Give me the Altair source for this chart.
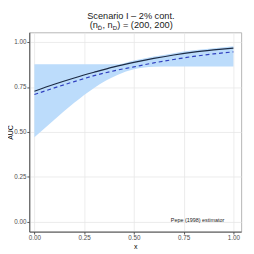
import altair as alt
import pandas as pd

# ---- data ----
x_line = [0.0, 0.1, 0.2, 0.3, 0.4, 0.5, 0.6, 0.7, 0.8, 0.9, 1.0]
auc_true = [0.726, 0.765, 0.800, 0.832, 0.862, 0.887, 0.909, 0.928, 0.944, 0.956, 0.966]
auc_pepe = [0.708, 0.745, 0.780, 0.813, 0.840, 0.862, 0.884, 0.903, 0.920, 0.934, 0.945]

x_band = [0.0, 0.1, 0.2, 0.3, 0.42, 0.5, 0.6, 0.7, 0.8, 0.9, 1.0]
band_lo = [0.471, 0.568, 0.662, 0.745, 0.818, 0.848, 0.862, 0.864, 0.864, 0.864, 0.864]
band_hi = [0.876, 0.876, 0.876, 0.876, 0.876, 0.897, 0.919, 0.938, 0.954, 0.966, 0.977]

major_ticks = [0.0, 0.25, 0.5, 0.75, 1.0]
minor_ticks = [0.125, 0.375, 0.625, 0.875]

title_line1 = "Scenario I \u2013 2% cont."
title_line2 = ["(n", "D\u0304", ", n", "D", ") = (200, 200)"]
note_text = "Pepe (1998) estimator"
note_x, note_y = 0.82, 0.01

# ---- tables ----
band_df = pd.DataFrame({"x": x_band, "lo": band_lo, "hi": band_hi})
true_df = pd.DataFrame({"x": x_line, "auc": auc_true})
pepe_df = pd.DataFrame({"x": x_line, "auc": auc_pepe})
note_df = pd.DataFrame({"x": [note_x], "y": [note_y], "t": [note_text]})
one = pd.DataFrame({"a": [0]})

tick_vals = sorted(major_ticks + minor_ticks)
is_minor = "(datum.value * 4) % 1 != 0"
FONT = "Liberation Sans"


def make_axis(title, **kw):
    return alt.Axis(
        values=tick_vals,
        title=title,
        titleFont=FONT,
        titleFontSize=7.2,
        titleFontWeight="normal",
        titleColor="#000000",
        labelFont=FONT,
        labelFontSize=6.5,
        labelColor="#4d4d4d",
        labelExpr="(datum.value * 4) % 1 != 0 ? '' : format(datum.value, '.2f')",
        labelPadding=1,
        tickSize=2.5,
        tickColor={"condition": {"test": is_minor, "value": "transparent"}, "value": "#4d4d4d"},
        domainColor="#4d4d4d",
        domainWidth=1,
        grid=True,
        gridColor={"condition": {"test": is_minor, "value": "#f3f3f3"}, "value": "#e6e6e6"},
        gridWidth={"condition": {"test": is_minor, "value": 0.5}, "value": 0.8},
        **kw,
    )


xs = alt.Scale(domain=[-0.0257, 1.039], nice=False, zero=False)
ys = alt.Scale(domain=[-0.054, 1.054], nice=False, zero=False)

band = alt.Chart(band_df).mark_area(color="#bcdcfb", opacity=1, interpolate="monotone").encode(
    x=alt.X("x:Q", scale=xs, axis=make_axis("x", titlePadding=1)),
    y=alt.Y("lo:Q", scale=ys, axis=make_axis("AUC", titleX=-19, titleBaseline="middle")),
    y2="hi:Q",
)

true_line = alt.Chart(true_df).mark_line(color="#1c2b45", strokeWidth=1.2, interpolate="monotone").encode(
    x=alt.X("x:Q", scale=xs), y=alt.Y("auc:Q", scale=ys)
)

pepe_line = alt.Chart(pepe_df).mark_line(
    color="#2f3fbf", strokeWidth=1.2, strokeDash=[4, 3], interpolate="monotone"
).encode(x=alt.X("x:Q", scale=xs), y=alt.Y("auc:Q", scale=ys))

note = alt.Chart(note_df).mark_text(font=FONT, fontSize=5.6, color="#222222", align="center", baseline="middle").encode(
    x=alt.X("x:Q", scale=xs), y=alt.Y("y:Q", scale=ys), text="t:N"
)

# title pieces (pixel positions relative to the plot area)
t1 = alt.Chart(one).mark_text(
    text=title_line1, font=FONT, fontSize=9.5, color="#1a1a1a", align="center", baseline="alphabetic"
).encode(x=alt.value(105), y=alt.value(-13.5))

sizes = [9.5, 6.2, 9.5, 6.2, 9.5]
xpos = [62.4, 70.85, 75.65, 86.2, 91.0]
ypos = [-4.2, -2.5, -4.2, -2.5, -4.2]
pieces = []
for txt, s, px, py in zip(title_line2, sizes, xpos, ypos):
    pieces.append(
        alt.Chart(one).mark_text(
            text=txt, font=FONT, fontSize=s, color="#1a1a1a", align="left", baseline="alphabetic"
        ).encode(x=alt.value(px), y=alt.value(py))
    )

chart = alt.layer(band, true_line, pepe_line, note, t1, *pieces).properties(
    width=219,
    height=206,
    autosize=alt.AutoSizeParams(type="none"),
    padding={"left": 22, "top": 21, "right": 5, "bottom": 19},
    background="white",
).configure_view(stroke="#b3b3b3", strokeWidth=1)

chart.save("out.html", embed_options={"renderer": "svg", "actions": False})
